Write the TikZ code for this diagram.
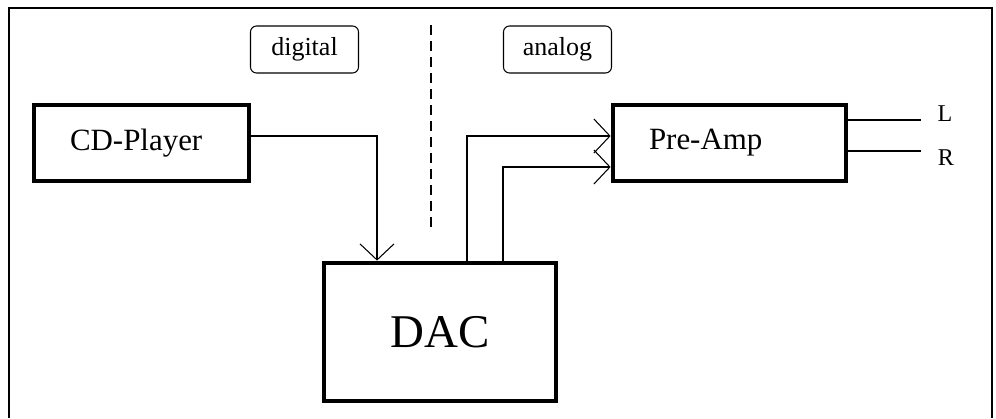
\documentclass[tikz,border=0pt]{standalone}
\usepackage{fontspec}
\setmainfont{Liberation Serif}
\usepackage{tikz}
\usetikzlibrary{positioning, arrows.meta}
\tikzset{
    unitbox/.style={draw, line width=2.7pt, minimum height=1.52cm, inner xsep=0.72cm, align=left, font=\fontsize{17.6}{20}\selectfont},
    dacbox/.style={draw, line width=2.7pt, minimum width=4.64cm, minimum height=2.76cm, font=\fontsize{26.7}{30}\selectfont},
    tagbox/.style={draw, line width=0.6pt, rounded corners=0.12cm, minimum width=2.16cm, minimum height=0.94cm, font=\fontsize{14.8}{17}\selectfont},
    chlabel/.style={font=\fontsize{13.7}{16}\selectfont, inner sep=0pt},
    sig/.style={line width=1.4pt, -{Straight Barb[length=3.2mm, width=6.8mm, line width=0.6pt]}},
    wire/.style={line width=1.4pt}
}

\begin{document}
\begin{tikzpicture}
    \useasboundingbox (0,0) rectangle (19.92,8.36);
    % frame
    \draw[line width=1.4pt] (0.18,0) -- (0.18,8.2) -- (19.84,8.2) -- (19.84,0);

    \node[unitbox, text width=2.86cm] (cd) at (2.83,5.5) {CD-Player};
    \node[unitbox, text width=3.22cm] (pre) at (14.59,5.5) {Pre-Amp};
    \node[dacbox] (dac) at (8.8,1.72) {DAC};

    \node[tagbox] (dig) at (6.09,7.37) {digital};
    \node[tagbox] (ana) at (11.15,7.37) {analog};
    \coordinate (sepTop) at (8.62,7.86);
    \coordinate (sepBot) at (8.62,3.8);
    \draw[line width=0.85pt, dash pattern=on 0.2cm off 0.12cm] (sepTop) -- (sepBot);

    % signal path
    \draw[sig] ([yshift=0.14cm]cd.east) -| ([xshift=-1.26cm]dac.north);
    \draw[sig] ([xshift=0.54cm]dac.north) |- ([yshift=0.14cm]pre.west);
    \draw[sig] ([xshift=1.26cm]dac.north) |- ([yshift=-0.48cm]pre.west);

    % outputs
    \coordinate (outL) at (18.42,5.96);
    \coordinate (outR) at (18.42,5.34);
    \draw[wire] (pre.east |- outL) -- (outL);
    \draw[wire] (pre.east |- outR) -- (outR);
    \node[chlabel] (lL) at (18.9,6.08) {L};
    \node[chlabel] (lR) at (18.92,5.2) {R};
\end{tikzpicture}
\end{document}
